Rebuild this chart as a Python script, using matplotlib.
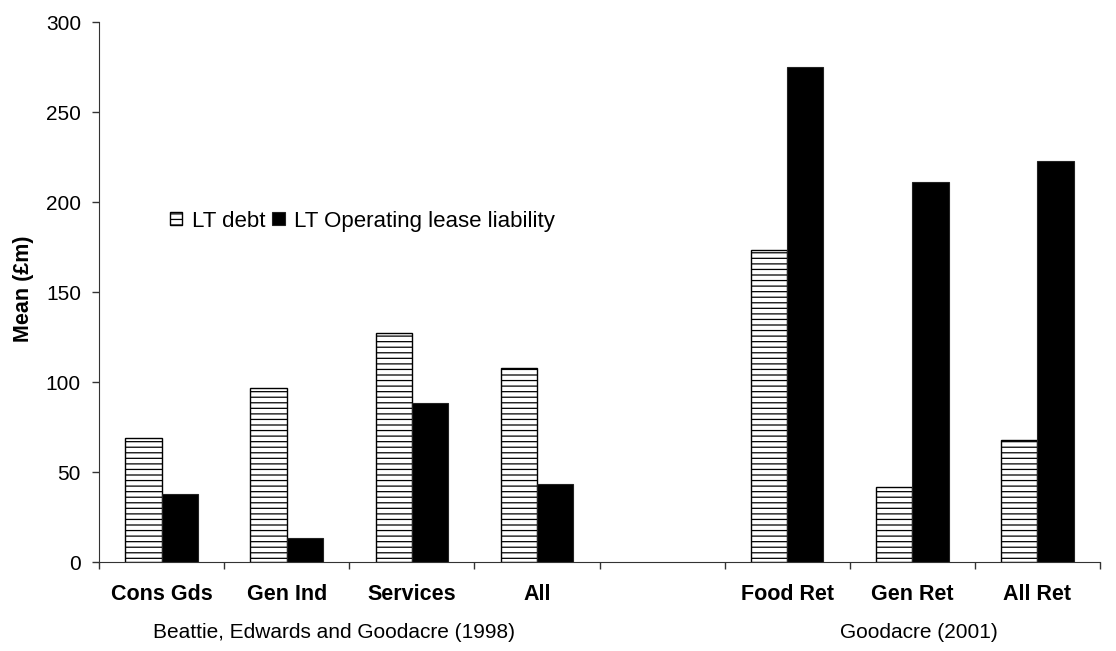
import matplotlib
matplotlib.use("Agg")
import matplotlib.pyplot as plt
import numpy as np

plt.rcParams['font.family'] = ['Liberation Sans', 'DejaVu Sans']
plt.rcParams['hatch.linewidth'] = 0.9

categories = ["Cons Gds", "Gen Ind", "Services", "All", "", "Food Ret", "Gen Ret", "All Ret"]
lt_debt = [69, 96.5, 127, 108, np.nan, 173.5, 41.5, 68]
lt_lease = [38, 13.5, 88.5, 43.5, np.nan, 275, 211, 223]
series_names = ["LT debt", "LT Operating lease liability"]
group_labels = ["Beattie, Edwards and Goodacre (1998)", "Goodacre (2001)"]
group_centers = [1.38, 6.05]
yticks = [0, 50, 100, 150, 200, 250, 300]

W, H = 1116, 651
fig = plt.figure(figsize=(W/100, H/100), dpi=100)
ax = fig.add_axes([99/W, 1 - 562/H, 1001/W, (562-22)/H])

x = np.arange(len(categories))
w = 0.29
ax.bar(x - w/2, lt_debt, w, facecolor='white', edgecolor='black', hatch='---',
       linewidth=1.0, label=series_names[0])
ax.bar(x + w/2, lt_lease, w, facecolor='black', edgecolor='#222222',
       linewidth=0.8, label=series_names[1])

ax.set_xlim(-0.5, len(categories) - 0.5)
ax.set_ylim(0, 300)
ax.set_yticks(yticks)
ax.tick_params(axis='y', labelsize=15, length=5, direction='out', width=1,
               pad=8, color='#333333')
ax.set_xticks(np.arange(len(categories) + 1) - 0.5)
ax.set_xticklabels([])
ax.tick_params(axis='x', length=5, direction='out', width=1, color='#333333')

tr = ax.get_xaxis_transform()
y_cat = (562 - 600) / (562 - 22)
y_grp = (562 - 638) / (562 - 22)
for xi, c in zip(x, categories):
    ax.text(xi, y_cat, c, transform=tr, ha='center', va='baseline',
            fontsize=15.5, fontweight='bold')
for gx, g in zip(group_centers, group_labels):
    ax.text(gx, y_grp, g, transform=tr, ha='center', va='baseline', fontsize=15)

for s in ['top', 'right']:
    ax.spines[s].set_visible(False)
ax.spines['left'].set_color('#333333')
ax.spines['bottom'].set_color('#333333')

fig.text(23/W, 1 - 289/H, "Mean (£m)", rotation=90, ha='center', va='center',
         fontsize=15.5, fontweight='bold')

ax.legend(loc='center left', bbox_to_anchor=(170/W, 1 - 221/H),
          bbox_transform=fig.transFigure, ncol=2, frameon=False,
          fontsize=16, handlelength=0.55, handleheight=0.55, handletextpad=0.42,
          columnspacing=0.33, borderpad=0, borderaxespad=0)

fig.savefig("out.png", dpi=100)
